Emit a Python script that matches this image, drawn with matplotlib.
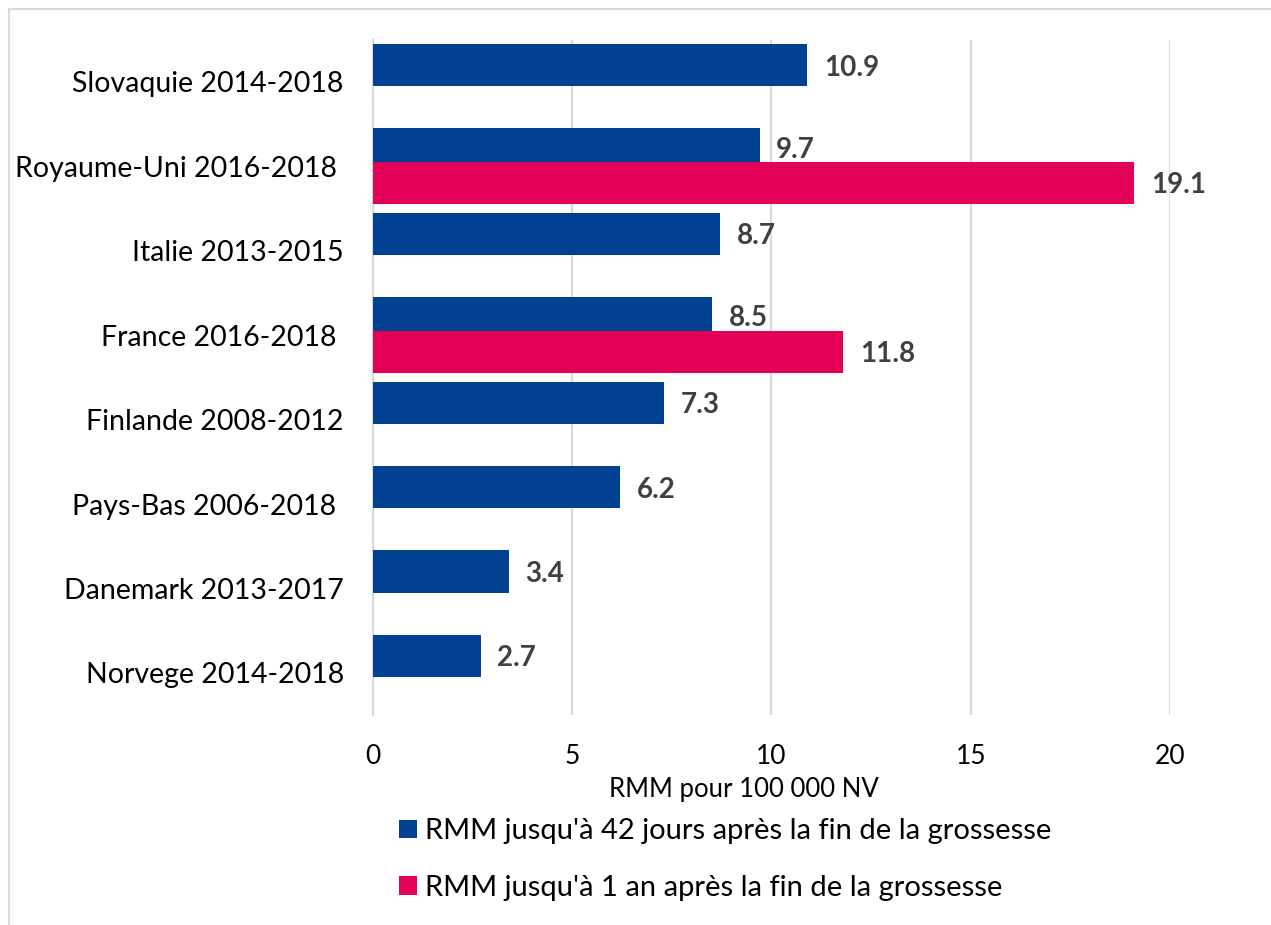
import numpy as np
import matplotlib.pyplot as plt
from matplotlib.patches import Rectangle

plt.rcParams['font.family'] = ['Lato', 'DejaVu Sans']

# data
categories = ["Slovaquie 2014-2018", "Royaume-Uni 2016-2018 ", "Italie 2013-2015",
              "France 2016-2018 ", "Finlande 2008-2012", "Pays-Bas 2006-2018 ",
              "Danemark 2013-2017", "Norvege 2014-2018"]
rmm_42j = [10.9, 9.7, 8.7, 8.5, 7.3, 6.2, 3.4, 2.7]
rmm_1an = [np.nan, 19.1, np.nan, 11.8, np.nan, np.nan, np.nan, np.nan]
xticks = [0, 5, 10, 15, 20]

blue = "#004191"
pink = "#E30057"
grid_col = "#D9D9D9"

fig = plt.figure(figsize=(12.71, 9.25), dpi=100)
ax = fig.add_axes([0.2935, 0.227, 0.627, 0.730])

y = np.arange(len(categories))
ax.barh(y - 0.2, rmm_42j, height=0.5, color=blue, zorder=3,
        label="RMM jusqu'à 42 jours après la fin de la grossesse")
ax.barh(y + 0.2, rmm_1an, height=0.5, color=pink, zorder=4,
        label="RMM jusqu'à 1 an après la fin de la grossesse")

# value labels
for yi, v, p in zip(y, rmm_42j, rmm_1an):
    off = -0.2 if not np.isnan(p) else -0.17
    ax.text(v + 0.42, yi + off, f"{v:.1f}", va="center", ha="left",
            fontsize=20, fontweight="bold", color="#404040", zorder=5)
for yi, v in zip(y, rmm_1an):
    if not np.isnan(v):
        ax.text(v + 0.42, yi + 0.22, f"{v:.1f}", va="center", ha="left",
                fontsize=20, fontweight="bold", color="#404040", zorder=5,
                clip_on=False)

ax.set_xlim(0, 20)
ax.set_ylim(len(categories) - 0.5, -0.5)
ax.set_xticks(xticks)
ax.set_xticklabels([str(t) for t in xticks], fontsize=19)
ax.set_yticks(y)
ax.set_yticklabels(categories, fontsize=20.5)
ax.tick_params(axis="both", length=0)
ax.tick_params(axis="x", pad=21)
ax.tick_params(axis="y", pad=21)

ax.grid(axis="x", color=grid_col, linewidth=1.5, zorder=0)
for s in ["top", "right", "bottom"]:
    ax.spines[s].set_visible(False)
ax.spines["left"].set_color(grid_col)
ax.spines["left"].set_linewidth(1.5)

fig.text(744 / 1271, 1 - 790 / 925, "RMM pour 100 000 NV", fontsize=18.5,
         ha="center", va="center")

fig.legend(*ax.get_legend_handles_labels(), loc="center left",
           bbox_to_anchor=(399 / 1271, 1 - 859.5 / 925), frameon=False,
           fontsize=21, handlelength=0.6, handleheight=0.6, handletextpad=0.3,
           labelspacing=1.05, borderpad=0, borderaxespad=0)

# chart frame
fig.patches.append(Rectangle((9 / 1271, -0.01), 1.02, 1 - 9 / 925 + 0.01,
                             transform=fig.transFigure, fill=False,
                             edgecolor=grid_col, linewidth=1.5))

plt.savefig("out.png")
